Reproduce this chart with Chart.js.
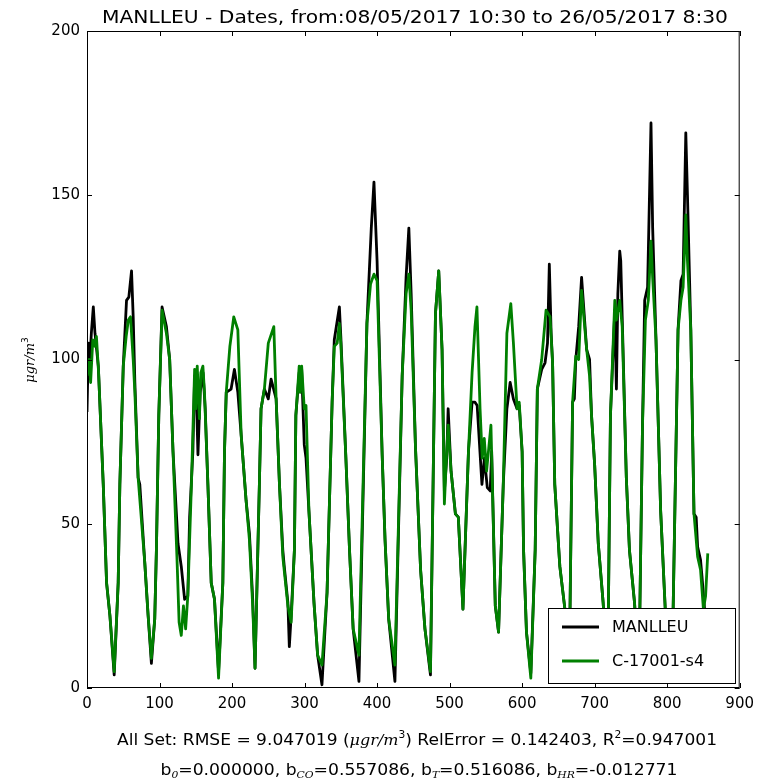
<!DOCTYPE html>
<html>
<head>
<meta charset="utf-8">
<script src="https://cdn.jsdelivr.net/npm/chart.js"></script>
<style>
  html, body { margin: 0; padding: 0; background: #fff; }
  canvas { display: block; }
</style>
</head>
<body>
<canvas id="chart" width="761" height="780"></canvas>
<script>
// values (sample index vs concentration)
const manlleuX = [0, 2, 4, 6, 8.7, 11, 15.6, 22.4, 27, 31.6, 37.5, 43, 45.3, 50, 54.5, 57.7, 61.4, 63.7, 66, 70.5, 72.8, 79.7, 84.3, 88.8, 93.4, 95.7, 99, 103.5, 109.5, 114, 118.6, 125.5, 130, 134.6, 139, 141.5, 146, 148.4, 151, 153, 156, 160, 163, 166.7, 171.3, 175.8, 181.4, 187.3, 189.6, 192, 198.7, 203.3, 208, 212.6, 219.4, 224, 228.5, 231.7, 237.7, 240, 244.6, 250, 253.8, 260.8, 265.4, 270, 272, 277, 279, 281.5, 286, 288, 292.6, 296, 299.6, 302, 306, 313, 318, 324, 331, 338, 341, 348, 350, 356.8, 362, 367, 375, 386, 392, 395.7, 400, 407, 411, 416, 424.6, 434.6, 440, 443.8, 447, 453, 460, 466, 473.6, 480.5, 485, 489.6, 492.8, 496, 498, 502, 508, 512, 518.4, 526, 531, 535, 538, 544.6, 548, 552, 556, 558, 563, 567.5, 574, 579, 583.5, 588, 593, 596, 600, 602, 606, 612, 618, 621, 627, 631.6, 635, 637.5, 640, 642, 645, 652, 659, 665, 669.6, 672, 674, 678, 682, 689, 693, 695.7, 700, 705, 711.7, 718, 721.8, 727.8, 730, 732, 734.6, 736, 738, 743.7, 748, 755, 761, 766, 769, 773, 777.7, 780, 784.6, 791, 798, 805, 808, 815, 819, 822, 825.7, 828, 832.6, 837, 840, 842, 846, 848, 853];
const manlleuY = [84, 105, 100, 108, 116, 108, 98, 62, 32, 22, 4, 32, 62, 98, 118, 119, 127, 113, 93, 64, 62, 38, 22, 7.5, 21, 42, 83, 116, 110, 100, 72, 44, 37, 27, 28, 52, 72, 95, 88, 71, 90, 96, 85, 62, 32, 27, 5, 32, 72, 90, 91, 97, 90, 77, 57, 47, 27, 6, 62, 85, 91, 88, 94, 88, 62, 42, 37, 26, 12.6, 22, 42, 83, 96, 97, 74, 70, 54, 26, 10, 1, 29, 87, 106, 116, 107, 71, 42, 18, 2, 111, 140, 154, 130, 71, 45, 21, 2, 95, 125, 140, 120, 73, 36, 18, 4, 114, 127, 103, 60, 70, 85, 66, 53, 52, 24, 72, 87, 87, 86, 62, 70, 61, 60, 72, 25, 17, 62, 85, 93, 88, 85, 86, 72, 42, 17, 4.5, 42, 91, 97, 99, 105, 129, 108, 99, 62, 37, 24, 5, 87, 88, 100, 110, 125, 103, 100, 83, 68, 44, 26, 4, 83, 115, 91, 120, 133, 130, 113, 64, 42, 26, 3, 80, 118, 122, 172, 140, 106, 54, 21, 3, 21, 109, 124, 126, 169, 150, 109, 53, 52, 43, 39, 34, 20];

const sensorX = [0, 3, 5, 8, 11, 13, 16, 22.4, 27, 31.6, 37.5, 43, 45.3, 50, 54, 57, 60, 63.7, 66, 70.5, 79.7, 84.3, 88.8, 93.4, 95.7, 99, 103.5, 109.5, 114, 118.6, 124, 127, 130, 133, 136, 139, 144, 148.4, 150, 152, 155, 157, 159.8, 162, 166.7, 171.3, 175.8, 181.4, 187.3, 189.6, 192, 197, 202.4, 208, 212.6, 219.4, 224, 228.5, 231.7, 237.7, 240, 244.6, 250, 257.6, 260.8, 265.4, 270, 277, 281.5, 286, 288, 292.6, 294, 296, 299.6, 302, 306, 313, 318, 324, 331, 338, 341, 345, 348, 350, 356.8, 362, 367, 375, 386, 391, 395.7, 400, 407, 411, 416, 424.6, 434.6, 440, 443.8, 447, 453, 460, 466, 473.6, 480.5, 485, 489.6, 492.8, 496, 498, 502, 508, 512, 518.4, 526, 531, 535, 537.7, 542, 545, 547.8, 551, 554, 557, 563, 567.5, 574, 579, 584.4, 588, 593, 596, 600, 602, 606, 612, 618, 621, 627, 633, 638.5, 642, 645, 652, 659, 665, 669.6, 674, 678, 682, 689, 693, 695.7, 700, 705, 711.7, 718, 721.8, 727.8, 730, 734.6, 738, 743.7, 748, 755, 761, 766, 770, 774, 777.7, 780, 784.6, 791, 798, 805, 808, 815, 819, 822, 825.7, 828, 832.6, 837, 842, 846, 850, 853, 856];
const sensorY = [95, 100, 93, 106, 104, 107, 96, 62, 32, 22, 5, 32, 62, 98, 107, 112, 113, 100, 90, 64, 38, 22, 9, 21, 42, 83, 115, 108, 100, 72, 40, 20, 16, 25, 18, 28, 62, 97, 85, 98, 82, 96, 98, 90, 62, 32, 27, 3, 32, 72, 90, 104, 113, 109, 77, 57, 45, 25, 6, 62, 85, 91, 105, 110, 88, 62, 40, 25, 20, 42, 83, 98, 90, 98, 85, 86, 54, 26, 10, 7, 29, 87, 104, 105, 111, 105, 71, 42, 18, 10, 111, 123, 126, 124, 71, 45, 21, 7, 95, 120, 126, 115, 73, 36, 18, 5, 114, 127, 103, 56, 72, 80, 66, 53, 52, 24, 72, 96, 110, 116, 85, 70, 76, 66, 73, 80, 25, 17, 62, 108, 117, 105, 85, 87, 72, 42, 17, 3, 42, 91, 100, 115, 113, 99, 62, 37, 24, 5, 87, 101, 100, 121, 103, 95, 83, 68, 44, 26, 4, 83, 118, 112, 118, 110, 64, 42, 26, 3, 80, 112, 118, 136, 125, 106, 54, 21, 3, 21, 109, 118, 122, 144, 130, 109, 53, 40, 36, 24, 28, 41];

const seriesNames = ['MANLLEU', 'C-17001-s4'];
const seriesColors = ['#000000', '#008000'];
const xTickStep = 100;
const yTickStep = 50;

const TXT = 'DejaVu Sans';
const MATH = 'DejaVu Serif';

// draw a row of text pieces, squeezed horizontally to a target width
function drawParts(ctx, parts, cx, y, width) {
  let total = 0;
  parts.forEach(p => {
    ctx.font = p.font;
    p.w = ctx.measureText(p.t).width;
    total += p.w;
  });
  const sx = width ? width / total : 1;
  ctx.save();
  ctx.translate(cx - total * sx / 2, y);
  ctx.scale(sx, 1);
  ctx.textBaseline = 'alphabetic';
  ctx.textAlign = 'left';
  let x = 0;
  parts.forEach(p => {
    ctx.font = p.font;
    ctx.fillText(p.t, x, p.dy || 0);
    x += p.w;
  });
  ctx.restore();
}

const decorations = {
  id: 'decorations',
  afterDatasetsDraw(chart) {
    const { ctx, chartArea: a, scales } = chart;
    ctx.save();
    // frame
    ctx.strokeStyle = '#000';
    ctx.lineWidth = 1;
    ctx.strokeRect(a.left + 0.5, a.top + 0.5, a.right - a.left - 1, a.bottom - a.top - 1);
    // inward ticks on all four sides
    ctx.beginPath();
    for (let v = 0; v <= 900; v += xTickStep) {
      const px = Math.round(scales.x.getPixelForValue(v)) + 0.5;
      ctx.moveTo(px, a.bottom); ctx.lineTo(px, a.bottom - 5);
      ctx.moveTo(px, a.top); ctx.lineTo(px, a.top + 5);
    }
    for (let v = 0; v <= 200; v += yTickStep) {
      const py = Math.round(scales.y.getPixelForValue(v)) + 0.5;
      ctx.moveTo(a.left, py); ctx.lineTo(a.left + 5, py);
      ctx.moveTo(a.right, py); ctx.lineTo(a.right - 5, py);
    }
    ctx.stroke();

    // legend box, lower right
    const lx = 548, ly = 608, lw = 187, lh = 75;
    ctx.fillStyle = '#fff';
    ctx.fillRect(lx, ly, lw, lh);
    ctx.strokeRect(lx + 0.5, ly + 0.5, lw, lh);
    seriesNames.forEach((name, i) => {
      const y = ly + 19 + i * 34;
      ctx.strokeStyle = seriesColors[i];
      ctx.lineWidth = 2.8;
      ctx.beginPath();
      ctx.moveTo(lx + 14, y); ctx.lineTo(lx + 51, y);
      ctx.stroke();
      ctx.fillStyle = '#000';
      ctx.font = '16px "' + TXT + '"';
      ctx.textBaseline = 'middle';
      ctx.fillText(name, lx + 64, y + 1);
    });
    ctx.restore();
  },
  afterDraw(chart) {
    const { ctx } = chart;
    ctx.save();
    ctx.fillStyle = '#000';
    const n = '16px "' + TXT + '"';
    const it = 'italic 15px "' + MATH + '"';
    const sup = '10px "' + TXT + '"';
    const sub = 'italic 10px "' + MATH + '"';
    drawParts(ctx, [{ t: 'MANLLEU - Dates, from:08/05/2017 10:30 to 26/05/2017 8:30', font: '17px "' + TXT + '"' }], 415, 23, 626);
    drawParts(ctx, [
      { t: 'All Set: RMSE = 9.047019 (', font: n },
      { t: 'μgr/m', font: it },
      { t: '3', font: sup, dy: -7 },
      { t: ') RelError = 0.142403, R', font: n },
      { t: '2', font: sup, dy: -7 },
      { t: '=0.947001', font: n }
    ], 417, 745, 600);
    drawParts(ctx, [
      { t: 'b', font: n }, { t: '0', font: sub, dy: 3 },
      { t: '=0.000000, b', font: n }, { t: 'CO', font: sub, dy: 3 },
      { t: '=0.557086, b', font: n }, { t: 'T', font: sub, dy: 3 },
      { t: '=0.516086, b', font: n }, { t: 'HR', font: sub, dy: 3 },
      { t: '=-0.012771', font: n }
    ], 419, 775, 517);
    // y axis title
    ctx.translate(34, 360);
    ctx.rotate(-Math.PI / 2);
    drawParts(ctx, [
      { t: 'μgr/m', font: 'italic 13px "' + MATH + '"' },
      { t: '3', font: '9px "' + TXT + '"', dy: -6 }
    ], 0, 0, 0);
    ctx.restore();
  }
};

const toPoints = (xs, ys) => xs.map((x, i) => ({ x: x, y: ys[i] }));

new Chart(document.getElementById('chart'), {
  type: 'line',
  data: {
    datasets: [
      {
        label: seriesNames[0],
        data: toPoints(manlleuX, manlleuY),
        borderColor: seriesColors[0],
        borderWidth: 2.8,
        borderJoinStyle: 'round',
        pointRadius: 0,
        tension: 0,
        order: 2
      },
      {
        label: seriesNames[1],
        data: toPoints(sensorX, sensorY),
        borderColor: seriesColors[1],
        borderWidth: 2.8,
        borderJoinStyle: 'round',
        pointRadius: 0,
        tension: 0,
        order: 1
      }
    ]
  },
  options: {
    responsive: false,
    animation: false,
    devicePixelRatio: 1,
    layout: { padding: { top: 31, right: 17, left: 0, bottom: 0 } },
    plugins: {
      legend: { display: false },
      tooltip: { enabled: false }
    },
    scales: {
      x: {
        type: 'linear',
        min: 0,
        max: 900,
        grid: { display: false, drawTicks: false },
        border: { display: false },
        ticks: { stepSize: xTickStep, color: '#000', padding: 7, maxRotation: 0, font: { family: TXT, size: 15 } },
        afterFit: s => { s.height = 92; }
      },
      y: {
        min: 0,
        max: 200,
        grid: { display: false, drawTicks: false },
        border: { display: false },
        ticks: { stepSize: yTickStep, color: '#000', padding: 7, font: { family: TXT, size: 15 } },
        afterFit: s => { s.width = 87; }
      }
    }
  },
  plugins: [decorations]
});
</script>
</body>
</html>
